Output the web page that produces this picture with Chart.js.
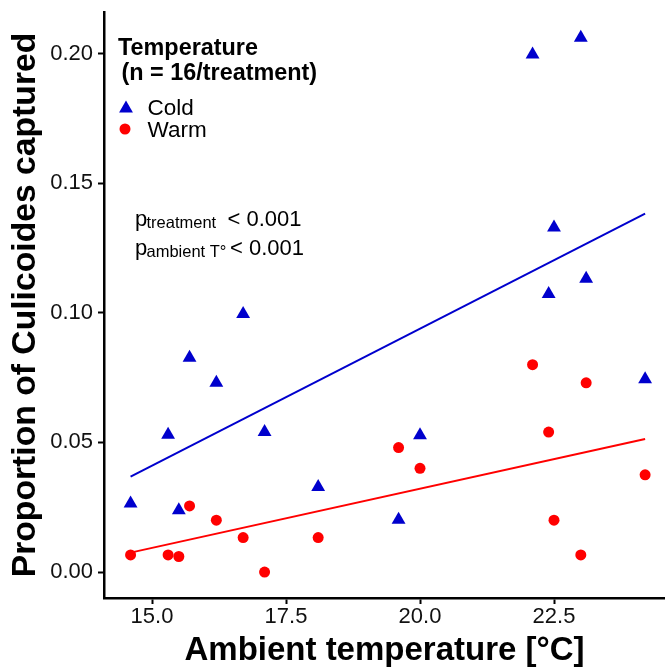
<!DOCTYPE html>
<html>
<head>
<meta charset="utf-8">
<script src="https://cdn.jsdelivr.net/npm/chart.js@4/dist/chart.umd.min.js"></script>
<style>
  html, body { margin: 0; padding: 0; background: #ffffff; }
  #wrap { width: 665px; height: 671px; }
</style>
</head>
<body>
<div id="wrap"><canvas id="c" width="665" height="671"></canvas></div>
<script>
// ---- data ----
const ambientTemp = [14.6, 15.3, 15.5, 15.7, 16.2, 16.7, 17.1, 18.1, 19.6, 20.0, 22.1, 22.4, 22.5, 23.0, 23.1, 24.2];
const coldProp = [0.0264, 0.0530, 0.0238, 0.0827, 0.0730, 0.0995, 0.0540, 0.0328, 0.0202, 0.0528, 0.1996, 0.1072, 0.1329, 0.2061, 0.1131, 0.0744];
const warmProp = [0.0066, 0.0066, 0.0060, 0.0255, 0.0200, 0.0133, 0.0000, 0.0133, 0.0480, 0.0400, 0.0800, 0.0540, 0.0200, 0.0066, 0.0730, 0.0375];
const fitTemp = [14.6, 24.2];
const coldFit = [0.0368, 0.1382];
const warmFit = [0.0075, 0.0513];
const xTickValues = [15.0, 17.5, 20.0, 22.5];
const yTickValues = [0.00, 0.05, 0.10, 0.15, 0.20];
const seriesNames = ['Cold', 'Warm'];
const legendTitle = ['Temperature', ' (n = 16/treatment)'];

const COLD = '#0000CD';
const WARM = '#FF0000';
const FONT = "'Liberation Sans', Arial, Helvetica, sans-serif";

const toPts = (xs, ys) => xs.map((x, i) => ({ x: x, y: ys[i] }));

const overlayPlugin = {
  id: 'overlay',
  afterDraw(chart) {
    const ctx = chart.ctx;
    ctx.save();
    ctx.fillStyle = '#000';
    ctx.textAlign = 'left';
    ctx.textBaseline = 'alphabetic';
    // legend title
    ctx.font = 'bold 23.4px ' + FONT;
    ctx.fillText(legendTitle[0], 118, 55);
    ctx.fillText(legendTitle[1], 115, 80);
    // legend keys
    ctx.fillStyle = COLD;
    Chart.helpers.drawPoint(ctx, { pointStyle: 'triangle', radius: 8, rotation: 0, borderWidth: 0 }, 126, 108.5);
    ctx.fillStyle = WARM;
    Chart.helpers.drawPoint(ctx, { pointStyle: 'circle', radius: 5.5, rotation: 0, borderWidth: 0 }, 125, 129);
    ctx.fillStyle = '#000';
    ctx.font = '22.5px ' + FONT;
    ctx.fillText(seriesNames[0], 147.5, 115);
    ctx.fillText(seriesNames[1], 147.5, 136.5);
    // p-value annotation
    ctx.font = '22px ' + FONT;
    ctx.fillText('p', 135, 226);
    ctx.fillText('< 0.001', 227.5, 226);
    ctx.fillText('p', 135, 255);
    ctx.fillText('< 0.001', 230, 255);
    ctx.font = '16.5px ' + FONT;
    ctx.fillText('treatment', 146.5, 228);
    ctx.fillText('ambient T\u00B0', 146.5, 257);
    ctx.restore();
  }
};

new Chart(document.getElementById('c'), {
  data: {
    datasets: [
      { type: 'line', label: 'Cold fit', data: toPts(fitTemp, coldFit), borderColor: COLD, borderWidth: 2, pointRadius: 0, fill: false },
      { type: 'line', label: 'Warm fit', data: toPts(fitTemp, warmFit), borderColor: WARM, borderWidth: 2, pointRadius: 0, fill: false },
      { type: 'scatter', label: seriesNames[0], data: toPts(ambientTemp, coldProp), pointStyle: 'triangle', pointRadius: 8, backgroundColor: COLD, borderWidth: 0 },
      { type: 'scatter', label: seriesNames[1], data: toPts(ambientTemp, warmProp), pointStyle: 'circle', pointRadius: 5.5, backgroundColor: WARM, borderWidth: 0 }
    ]
  },
  options: {
    responsive: false,
    animation: false,
    clip: false,
    layout: { autoPadding: false, padding: { top: 12, right: 0, bottom: 0, left: 0 } },
    plugins: { legend: { display: false }, tooltip: { enabled: false } },
    scales: {
      x: {
        type: 'linear',
        min: 14.104,
        max: 24.571,
        afterBuildTicks: (s) => { s.ticks = xTickValues.map(v => ({ value: v })); },
        afterFit: (s) => { s.height = 73; s.paddingLeft = 0; s.paddingRight = 0; },
        ticks: { color: '#111', font: { family: FONT, size: 22 }, padding: 0, maxRotation: 0, callback: (v) => Number(v).toFixed(1) },
        grid: { display: true, drawOnChartArea: false, drawTicks: true, tickLength: 6, tickWidth: 2, tickColor: '#000' },
        border: { display: true, color: '#000', width: 2.5 },
        title: { display: true, text: 'Ambient temperature [\u00B0C]', color: '#000', font: { family: FONT, size: 33, weight: 'bold' }, padding: { top: 0, bottom: 0 } }
      },
      y: {
        type: 'linear',
        min: -0.01,
        max: 0.216,
        afterBuildTicks: (s) => { s.ticks = yTickValues.map(v => ({ value: v })); },
        afterFit: (s) => { s.width = 104; s.paddingTop = 0; s.paddingBottom = 0; },
        ticks: { color: '#111', font: { family: FONT, size: 22 }, padding: 5, callback: (v) => Number(v).toFixed(2) },
        grid: { display: true, drawOnChartArea: false, drawTicks: true, tickLength: 6, tickWidth: 2, tickColor: '#000' },
        border: { display: true, color: '#000', width: 2.5 },
        title: { display: true, text: 'Proportion of Culicoides captured', color: '#000', font: { family: FONT, size: 33.7, weight: 'bold' }, padding: { top: 5, bottom: 0 } }
      }
    }
  },
  plugins: [overlayPlugin]
});
</script>
</body>
</html>
